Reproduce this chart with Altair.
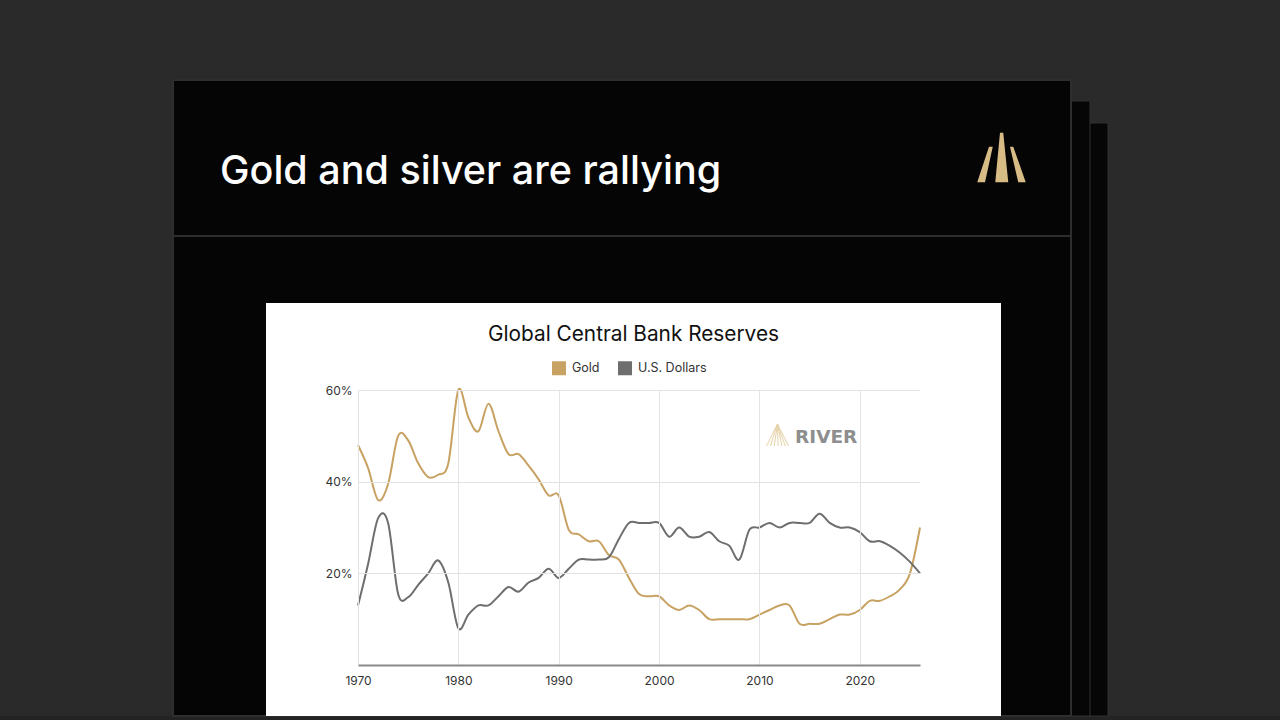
import altair as alt
import pandas as pd

# ---------------- data ----------------
years = list(range(1970, 2027))
gold = [48, 43, 36, 39.5, 50, 49, 44, 41, 41.5, 44,        # 1970-1979
        60, 54, 51, 57, 51, 46, 46, 43.5, 40.5, 37,         # 1980-1989
        37, 29.5, 28.5, 27, 27, 24, 23, 19, 15.5, 15,       # 1990-1999
        15, 13, 12, 13, 12, 10, 10, 10, 10, 10,             # 2000-2009
        11, 12, 13, 13, 9, 9, 9, 10, 11, 11,                # 2010-2019
        12, 14, 14, 15, 16.5, 20, 30]                       # 2020-2026
usd = [13, 22, 32, 31, 15.5, 14.8, 17.5, 20, 22.8, 18,      # 1970-1979
       8, 11, 13, 13, 15, 17, 16, 18, 19, 21,               # 1980-1989
       19, 21, 23, 23, 23, 23.5, 27.5, 31, 31, 31,          # 1990-1999
       31, 28, 30, 28, 28, 29, 27, 26, 23, 29.5,            # 2000-2009
       30, 31, 30, 31, 31, 31, 33, 31, 30, 30,              # 2010-2019
       29, 27, 27, 26, 24.5, 22.5, 20]                      # 2020-2026
series_names = ["Gold", "U.S. Dollars"]
series_colors = ["#c8a262", "#6e6e6e"]
x_ticks = [1970, 1980, 1990, 2000, 2010, 2020]
y_ticks = [20, 40, 60]

slide_title = "Gold and silver are rallying"
chart_title = "Global Central Bank Reserves"
watermark = "RIVER"

df = pd.DataFrame({
    "year": years * 2,
    "value": gold + usd,
    "series": [series_names[0]] * len(years) + [series_names[1]] * len(years),
})

# ---------------- layout ----------------
W, H = 562, 275          # plot area
OX, OY = 358, 390        # plot origin on the page
one = pd.DataFrame({"k": [0]})
FONT = "Inter"


def rect(x, x2, y, y2, fill, stroke=None, sw=1):
    kw = dict(fill=fill)
    if stroke:
        kw.update(stroke=stroke, strokeWidth=sw)
    else:
        kw.update(strokeWidth=0)
    return alt.Chart(one).mark_rect(**kw).encode(
        x=alt.value(x - OX), x2=alt.value(x2 - OX),
        y=alt.value(y - OY), y2=alt.value(y2 - OY))


def text(t, x, y, font=FONT, **kw):
    return alt.Chart(one).mark_text(text=t, font=font, **kw).encode(
        x=alt.value(x - OX), y=alt.value(y - OY))


decor = [
    rect(0, 1280, 716, 720, "#232323"),
    rect(200, 1108, 123, 716, "#060606", "#303030", 1),
    rect(190, 1090, 101, 716, "#060606", "#303030", 1),
    rect(173, 1071, 80, 716, "#050505", "#2e2e2e", 2),
    rect(173, 1071, 235, 237, "#2e2e2e"),
    rect(266, 1001, 303, 716, "#ffffff"),
    text(slide_title, 220, 184, fontSize=39.5, fontWeight=500, color="#ffffff",
         align="left", baseline="alphabetic"),
    alt.Chart(one).mark_point(
        shape=("M-0.5,-0.43 L-0.35,-0.43 L-0.66,0.99 L-0.97,0.99 Z "
               "M-0.06,-0.99 L0.07,-0.99 L0.27,0.99 L-0.25,0.99 Z "
               "M0.34,-0.43 L0.47,-0.43 L0.97,0.99 L0.67,0.99 Z"),
        size=2500, filled=True, fill="#d8bc86", strokeWidth=0, opacity=1
    ).encode(x=alt.value(1001.5 - OX), y=alt.value(157.5 - OY)),
    text(chart_title, 633.5, 341, fontSize=20.8, color="#111111",
         align="center", baseline="alphabetic"),
    alt.Chart(one).mark_point(
        shape=("M0,-1 L-1,1 M0,-1 L-0.65,1 M0,-1 L-0.3,1 M0,-1 L0.05,1 "
               "M0,-1 L0.4,1 M0,-1 L0.7,1 M0,-1 L1,1"),
        size=484, filled=False, stroke="#e6d2a8", strokeWidth=1, opacity=1
    ).encode(x=alt.value(777.5 - OX), y=alt.value(435 - OY)),
    text(watermark, 795, 443, font="DejaVu Sans", fontSize=18.5,
         fontWeight="bold", color="#8e8e8e",
         align="left", baseline="alphabetic"),
]

lines = alt.Chart(df).mark_line(interpolate="cardinal", tension=0,
                                strokeWidth=2).encode(
    x=alt.X("year:Q",
            scale=alt.Scale(domain=[1970, 2026], nice=False, zero=False),
            axis=alt.Axis(values=x_ticks, format="d", title=None, grid=True,
                          gridColor="#e3e3e3", gridWidth=1,
                          domainColor="#8a8a8a", domainWidth=2, ticks=False,
                          labelPadding=10, labelFont=FONT, labelFontSize=12,
                          labelColor="#333333", labelFlush=False, zindex=1)),
    y=alt.Y("value:Q",
            scale=alt.Scale(domain=[0, 60], nice=False),
            axis=alt.Axis(values=y_ticks, labelExpr="datum.value + '%'",
                          title=None, domain=False, ticks=False, grid=True,
                          gridColor="#e3e3e3", gridWidth=1, labelPadding=6,
                          labelFont=FONT, labelFontSize=12,
                          labelColor="#333333", zindex=1)),
    color=alt.Color("series:N",
                    scale=alt.Scale(domain=series_names, range=series_colors),
                    legend=alt.Legend(
                        title=None, orient="none", legendX=194, legendY=-29,
                        direction="horizontal", symbolType="square",
                        symbolSize=49, symbolStrokeWidth=7,
                        symbolOpacity=1,
                        labelFont=FONT, labelFontSize=12.5,
                        labelColor="#333333", columnPadding=7,
                        labelOffset=6, padding=0)),
)

chart = alt.layer(*decor, lines).properties(
    width=W, height=H,
    padding={"left": OX, "top": OY, "right": 1280 - OX - W,
             "bottom": 720 - OY - H},
    autosize="none",
    background="#2a2a2a",
).configure_view(strokeOpacity=0)

chart.save("out.html", embed_options={"renderer": "svg", "actions": False})
